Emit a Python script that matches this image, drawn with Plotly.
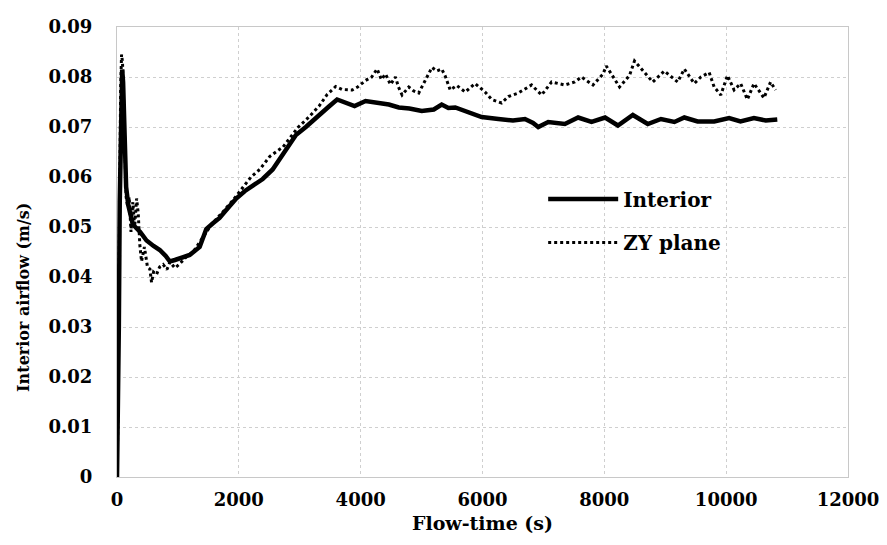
import plotly.graph_objects as go

# ---- data ----
interior_x = [0, 15, 30, 45, 60, 75, 85, 100, 120, 150, 185, 260, 380, 485, 600, 703, 800, 867,
              950, 1030, 1193, 1357, 1466, 1580, 1684, 1800, 1957, 2100, 2250, 2392, 2555, 2750,
              2937, 3100, 3318, 3470, 3613, 3750, 3900, 4080, 4300, 4463, 4626, 4800, 5003, 5200,
              5330, 5440, 5553, 5750, 5986, 6261, 6500, 6697, 6830, 6915, 7079, 7352, 7570, 7790,
              8012, 8223, 8468, 8713, 8930, 9150, 9313, 9531, 9803, 10048, 10235, 10456, 10650, 10839]
interior_y = [0, 0.01, 0.03, 0.055, 0.072, 0.0805, 0.0815, 0.079, 0.07, 0.058, 0.0544, 0.0505,
              0.049, 0.0473, 0.0462, 0.0454, 0.0442, 0.0431, 0.0434, 0.0438, 0.0444, 0.046, 0.0496,
              0.0508, 0.0518, 0.0535, 0.0557, 0.0572, 0.0585, 0.0596, 0.0615, 0.065, 0.0684, 0.070,
              0.0722, 0.074, 0.0755, 0.0748, 0.0742, 0.0752, 0.0749, 0.0745, 0.0739, 0.0737, 0.0732,
              0.0735, 0.0745, 0.0738, 0.0739, 0.073, 0.072, 0.0716, 0.0713, 0.0716, 0.0708, 0.070,
              0.071, 0.0706, 0.0719, 0.071, 0.0719, 0.0703, 0.0724, 0.0706, 0.0716, 0.071, 0.0719,
              0.0711, 0.0711, 0.0718, 0.0711, 0.0718, 0.0713, 0.0715]

zy_x = [0, 15, 30, 45, 60, 75, 90, 110, 130, 150, 175, 200, 230, 260, 290, 322, 348, 375, 403,
        450, 500, 540, 567, 600, 649, 700, 758, 820, 870, 950, 1020, 1141, 1250, 1400, 1550, 1700,
        1908, 2071, 2200, 2343, 2507, 2725, 2970, 3150, 3318, 3450, 3590, 3700, 3862, 3950, 4080,
        4180, 4270, 4340, 4408, 4490, 4571, 4620, 4680, 4790, 4870, 4953, 5062, 5170, 5250, 5330,
        5388, 5470, 5578, 5716, 5878, 6042, 6150, 6314, 6425, 6588, 6806, 6970, 7134, 7352, 7515,
        7624, 7814, 7978, 8032, 8250, 8413, 8495, 8659, 8795, 8985, 9204, 9313, 9476, 9585, 9721,
        9803, 9912, 10021, 10130, 10238, 10348, 10457, 10620, 10729, 10811]
zy_y = [0, 0.012, 0.035, 0.06, 0.078, 0.0845, 0.083, 0.075, 0.064, 0.056, 0.054, 0.056, 0.049,
        0.055, 0.05, 0.0557, 0.0528, 0.0464, 0.0431, 0.046, 0.042, 0.0416, 0.0389, 0.041, 0.0405,
        0.042, 0.0425, 0.0415, 0.043, 0.0418, 0.0425, 0.0441, 0.045, 0.0478, 0.0505, 0.0525,
        0.0554, 0.058, 0.060, 0.0615, 0.0641, 0.066, 0.0699, 0.072, 0.0742, 0.0765, 0.0781,
        0.0775, 0.0774, 0.078, 0.0793, 0.080, 0.0816, 0.0795, 0.0806, 0.0785, 0.080, 0.078,
        0.0764, 0.078, 0.0772, 0.0768, 0.0793, 0.0819, 0.0812, 0.0816, 0.0802, 0.0774, 0.0783,
        0.077, 0.0787, 0.077, 0.0755, 0.0748, 0.0761, 0.0768, 0.0784, 0.0764, 0.079, 0.0784,
        0.079, 0.080, 0.0784, 0.0806, 0.0822, 0.078, 0.0803, 0.0832, 0.0809, 0.079, 0.0812,
        0.079, 0.0816, 0.0787, 0.080, 0.0809, 0.078, 0.0764, 0.0803, 0.0774, 0.0787, 0.0755,
        0.0787, 0.0758, 0.079, 0.0774]

x_ticks = [0, 2000, 4000, 6000, 8000, 10000, 12000]
x_tick_labels = ["0", "2000", "4000", "6000", "8000", "10000", "12000"]
y_ticks = [0, 0.01, 0.02, 0.03, 0.04, 0.05, 0.06, 0.07, 0.08, 0.09]
y_tick_labels = ["0", "0.01", "0.02", "0.03", "0.04", "0.05", "0.06", "0.07", "0.08", "0.09"]

x_title = "Flow-time (s)"
y_title = "Interior airflow (m/s)"

FONT = "DejaVu Serif"

fig = go.Figure()
fig.add_trace(go.Scatter(x=interior_x, y=interior_y, mode="lines", name="<b>Interior</b>",
                         line=dict(color="black", width=4.5), legend="legend", showlegend=True))
fig.add_trace(go.Scatter(x=zy_x, y=zy_y, mode="lines", name="<b>ZY plane</b>",
                         line=dict(color="black", width=3, dash="dot"), legend="legend2",
                         showlegend=True))

leg_common = dict(xanchor="left", yanchor="middle", itemwidth=70,
                  font=dict(family=FONT, size=20, color="black"), bgcolor="rgba(0,0,0,0)")
fig.update_layout(
    width=879, height=537,
    margin=dict(l=109, r=36, t=8, b=68),
    paper_bgcolor="white", plot_bgcolor="white",
    showlegend=True,
    font=dict(family=FONT, color="black"),
    legend=dict(x=0.583, y=0.618, **leg_common),
    legend2=dict(x=0.583, y=0.521, **leg_common),
    annotations=[dict(text="<b>%s</b>" % y_title, textangle=-90, xref="paper", yref="paper",
                      x=-0.128, y=0.399, xanchor="center", yanchor="middle", showarrow=False,
                      font=dict(family=FONT, size=16, color="black"))],
)
fig.update_xaxes(range=[0, 12000], tickvals=x_ticks, ticktext=["<b>%s</b>" % t for t in x_tick_labels],
                 tickfont=dict(family=FONT, size=18, color="black"),
                 showgrid=True, gridcolor="#cfcfcf", griddash="dot", gridwidth=1,
                 showline=True, linecolor="#c8c8c8", linewidth=1, mirror=True,
                 zeroline=False, ticks="", ticklabelstandoff=6, ticklabeloverflow="allow",
                 title=dict(text="<b>%s</b>" % x_title, font=dict(family=FONT, size=19, color="black"),
                            standoff=8))
fig.update_yaxes(range=[0, 0.09], tickvals=y_ticks, ticktext=["<b>%s</b>" % t for t in y_tick_labels],
                 tickfont=dict(family=FONT, size=18, color="black"),
                 showgrid=True, gridcolor="#cfcfcf", griddash="dot", gridwidth=1,
                 showline=True, linecolor="#c8c8c8", linewidth=1, mirror=True,
                 zeroline=False, ticks="", ticklabelstandoff=20, ticklabeloverflow="allow")

fig.write_html("out.html")
